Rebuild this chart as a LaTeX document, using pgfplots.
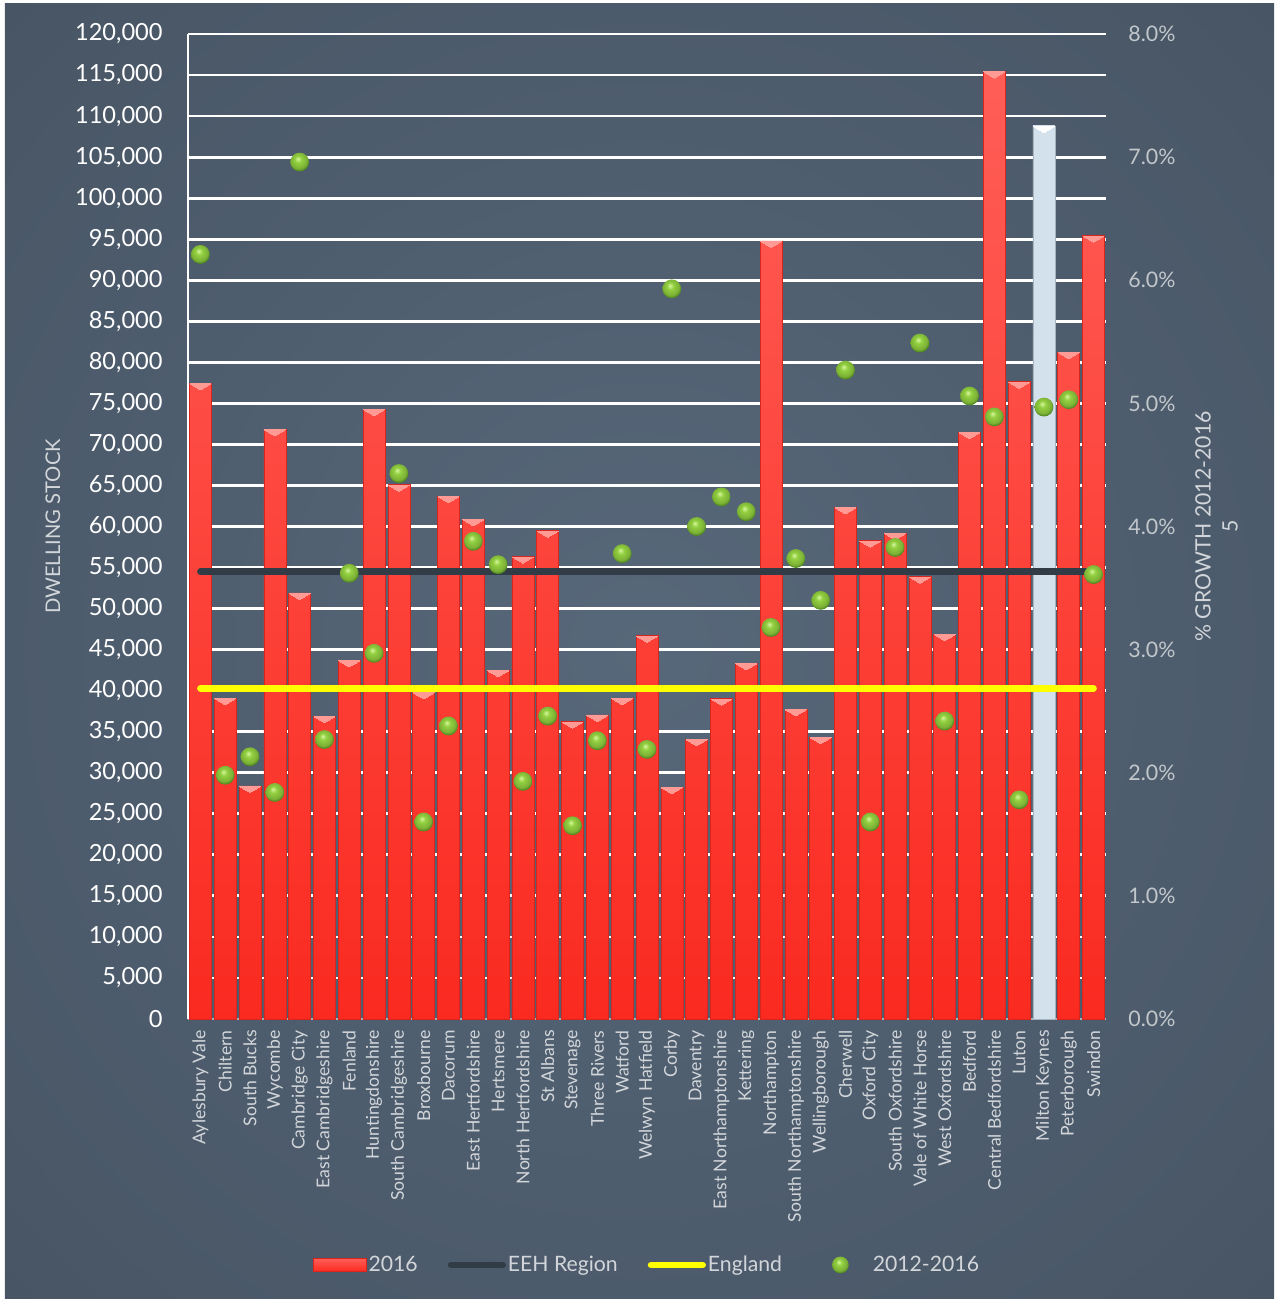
\documentclass[border=0pt]{standalone}
\usepackage{pgfplots}
\pgfplotsset{compat=1.18}
\usepackage{pgfplotstable}
\usepackage{fontspec}
\setmainfont{Lato}

\definecolor{bgInner}{HTML}{57687A}
\definecolor{bgMid}{HTML}{4A5868}
\definecolor{bgOuter}{HTML}{36414D}
\definecolor{barTop}{HTML}{FF5E57}
\definecolor{barBot}{HTML}{FA2A20}
\definecolor{barEdge}{HTML}{D8261E}
\definecolor{capPink}{HTML}{FF9A95}
\definecolor{mkSide}{HTML}{D2E1EB}
\definecolor{mkMid}{HTML}{F6FBFE}
\definecolor{eehLine}{HTML}{323C47}
\definecolor{engLine}{HTML}{FFFF00}
\definecolor{ballHi}{HTML}{D8F5A0}
\definecolor{ballMid}{HTML}{92D040}
\definecolor{ballEdge}{HTML}{4F8A1E}
\definecolor{tickGrey}{HTML}{C2C7CC}
\definecolor{labelGrey}{HTML}{D2D6DA}
\definecolor{baseGrey}{HTML}{A9B1B9}

\pgfdeclareradialshading{panel}{\pgfpoint{0bp}{0bp}}{%
  color(0bp)=(bgInner); color(30bp)=(bgMid); color(72bp)=(bgOuter)}

% glossy green marker for the growth series
\pgfdeclareradialshading{greenball}{\pgfpoint{-5bp}{9bp}}{%
  color(0bp)=(ballHi); color(9bp)=(ballMid); color(22bp)=(ballMid!85!black);
  color(27bp)=(ballEdge); color(50bp)=(ballEdge)}
\pgfdeclareplotmark{gball}{%
  \pgfpathcircle{\pgfpointorigin}{\pgfplotmarksize}%
  \pgfshadepath{greenball}{0}%
  \pgfusepath{discard}}

% dwelling stock 2016 (Milton Keynes kept apart for its own colour)
\pgfplotstableread{
idx stock
0  77450
1  39100
2  28400
3  71850
4  51900
5  36900
6  43700
7  74300
8  65100
9  39800
10 63700
11 60900
12 42500
13 56350
14 59500
15 36250
16 37050
17 39100
18 46700
19 28250
20 34100
21 39050
22 43350
23 94800
24 37750
25 34350
26 62350
27 58300
28 59200
29 53900
30 46900
31 71500
32 115450
33 77650
35 81250
36 95450
}\dwellings

\pgfplotstableread{
idx stock
34 108800
}\miltonkeynes

% growth in stock 2012-2016, per cent
\pgfplotstableread{
idx growth
0  6.21
1  1.98
2  2.13
3  1.84
4  6.96
5  2.27
6  3.62
7  2.97
8  4.43
9  1.60
10 2.38
11 3.88
12 3.69
13 1.93
14 2.46
15 1.57
16 2.26
17 3.78
18 2.19
19 5.93
20 4.00
21 4.24
22 4.12
23 3.18
24 3.74
25 3.40
26 5.27
27 1.60
28 3.83
29 5.49
30 2.42
31 5.06
32 4.89
33 1.78
34 4.97
35 5.03
36 3.61
}\growth

\newcommand{\districts}{Aylesbury Vale,Chiltern,South Bucks,Wycombe,Cambridge City,East Cambridgeshire,Fenland,Huntingdonshire,South Cambridgeshire,Broxbourne,Dacorum,East Hertfordshire,Hertsmere,North Hertfordshire,St Albans,Stevenage,Three Rivers,Watford,Welwyn Hatfield,Corby,Daventry,East Northamptonshire,Kettering,Northampton,South Northamptonshire,Wellingborough,Cherwell,Oxford City,South Oxfordshire,Vale of White Horse,West Oxfordshire,Bedford,Central Bedfordshire,Luton,Milton Keynes,Peterborough,Swindon}

\pgfplotsset{
  panel/.style={
    scale only axis, width=459pt, height=492.5pt,
    xmin=-0.5, xmax=36.5,
    /pgf/number format/assume math mode=true,
    major tick length=0pt,
  },
  cap/.style={only marks, mark=triangle*, mark size=6pt,
    mark options={yshift=-1.3pt, rotate=180, yscale=0.34, fill=#1, draw=#1, line width=0pt}},
}

\begin{document}
\begin{tikzpicture}
% page and panel background
\fill[white] (-94pt,-141.5pt) rectangle (545pt,509.5pt);
\shade[shading=panel] (-91.5pt,-139.5pt) rectangle (543pt,507.5pt);

% left axis: dwelling stock bars and reference lines
\begin{axis}[panel,
  ymin=0, ymax=120000,
  axis x line*=bottom, axis y line*=left,
  x axis line style={baseGrey, line width=1pt},
  y axis line style={white, line width=1pt},
  ymajorgrids, grid style={white, line width=1.4pt},
  ytick={0,5000,...,120000},
  scaled y ticks=false,
  yticklabel={\pgfmathprintnumber[fixed,1000 sep={,}]{\tick}},
  yticklabel style={font=\fontsize{11.8}{14}\selectfont, text=white, inner sep=0pt, xshift=-12.5pt, anchor=east},
  xtick={0,...,36},
  xticklabels/.expand once=\districts,
  xticklabel style={font=\fontsize{8.8}{10}\selectfont, text=labelGrey, inner sep=0pt, yshift=-5.5pt, rotate=90, anchor=east},
  ylabel={DWELLING STOCK},
  ylabel style={at={(axis description cs:-0.1471,0.5)}, anchor=center, font=\fontsize{10.1}{12}\selectfont, text=labelGrey},
]
\addplot[ybar, bar width=11pt, bar shift=0pt, top color=barTop, bottom color=barBot, draw=barEdge, line width=0.3pt]
  table[x=idx, y=stock] {\dwellings};
\addplot[ybar, bar width=11pt, bar shift=0pt, left color=mkSide, middle color=mkMid, right color=mkSide, draw=mkSide!80!black, line width=0.3pt]
  table[x=idx, y=stock] {\miltonkeynes};
% light caps on the bar tops
\addplot[cap=capPink] table[x=idx, y=stock] {\dwellings};
\addplot[cap=white] table[x=idx, y=stock] {\miltonkeynes};
% regional and national references
\addplot[eehLine, line width=3.3pt, line cap=round] coordinates {(0,54500) (36,54500)};
\addplot[engLine, line width=3.3pt, line cap=round] coordinates {(0,40270) (36,40270)};
\end{axis}

% right axis: growth 2012-2016
\begin{axis}[panel,
  ymin=0, ymax=8,
  axis x line=none, axis y line*=right,
  y axis line style={draw=none},
  ytick={0,1,...,8},
  yticklabel={\pgfmathprintnumber[fixed,fixed zerofill,precision=1]{\tick}\%},
  yticklabel style={font=\fontsize{10.7}{13}\selectfont, text=tickGrey, inner sep=0pt, xshift=11pt, anchor=west},
  ylabel={\% GROWTH 2012-2016\\5},
  ylabel style={at={(axis description cs:1.1204,0.5)}, anchor=center, align=center, font=\fontsize{10.6}{13.5}\selectfont, text=labelGrey},
  legend columns=4,
  legend style={at={(0.5,-0.2497)}, anchor=center, draw=none, fill=none,
    text=labelGrey, font=\fontsize{10.6}{13}\selectfont,
    /tikz/every even column/.append style={column sep=14pt},
    nodes={inner sep=1pt}},
]
\addlegendimage{legend image code/.code={%
  \shade[top color=barTop, bottom color=barBot, draw=barEdge, line width=0.3pt] (1pt,-3.2pt) rectangle (27.5pt,3.2pt);}}
\addlegendentry{2016}
\addlegendimage{legend image code/.code={%
  \draw[eehLine, line width=3.3pt, line cap=round] (1.6pt,0pt) -- (27.4pt,0pt);}}
\addlegendentry{EEH Region}
\addlegendimage{legend image code/.code={%
  \draw[engLine, line width=3.3pt, line cap=round] (1.6pt,0pt) -- (27.4pt,0pt);}}
\addlegendentry{England}
\addplot[only marks, mark=gball, mark size=4.7pt,
  legend image code/.code={%
    \path (0pt,0pt) (29pt,0pt);
    \begin{scope}[shift={(14pt,0pt)}]\pgfsetplotmarksize{4.2pt}\pgfuseplotmark{gball}\end{scope}},
  ] table[x=idx, y=growth] {\growth};
\addlegendentry{2012-2016}
\end{axis}

\pgfresetboundingbox
\useasboundingbox (-94pt,-141.5pt) rectangle (545pt,509.5pt);
\end{tikzpicture}
\end{document}
